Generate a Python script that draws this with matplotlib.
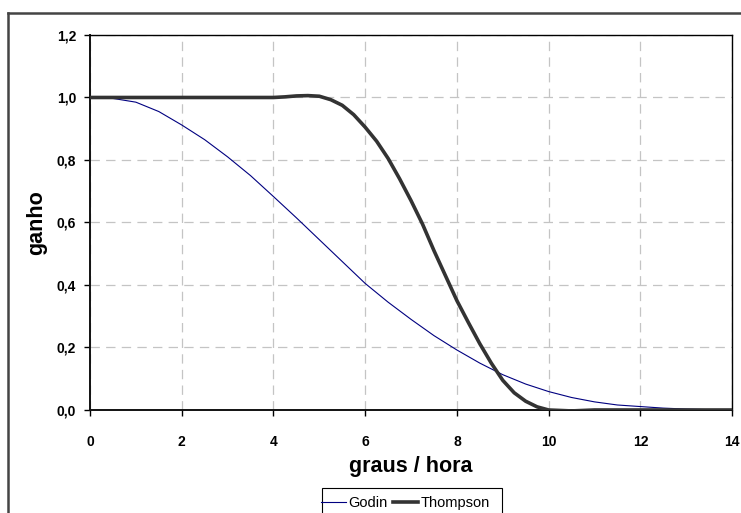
import numpy as np
import matplotlib
matplotlib.use("Agg")
import matplotlib.pyplot as plt
from matplotlib.lines import Line2D
from matplotlib.patches import Rectangle

plt.rcParams['font.family'] = ['Liberation Sans', 'DejaVu Sans']

# data (graus / hora vs ganho)
x_godin = [0, 0.5, 1, 1.5, 2, 2.5, 3, 3.5, 4, 4.5, 5, 5.5, 6, 6.5, 7, 7.5,
           8, 8.5, 9, 9.5, 10, 10.5, 11, 11.5, 12, 12.5, 13, 13.5, 14]
godin = [1.0, 0.997, 0.985, 0.955, 0.912, 0.865, 0.81, 0.75, 0.683, 0.615,
         0.545, 0.475, 0.405, 0.345, 0.29, 0.238, 0.192, 0.15, 0.113, 0.083,
         0.059, 0.04, 0.026, 0.016, 0.011, 0.006, 0.003, 0.001, 0.0]
x_thompson = [0, 1, 2, 3, 4, 4.25, 4.5, 4.75, 5, 5.25, 5.5, 5.75, 6, 6.25,
              6.5, 6.75, 7, 7.25, 7.5, 7.75, 8, 8.25, 8.5, 8.75, 9, 9.25,
              9.5, 9.75, 10, 10.5, 11, 12, 13, 14]
thompson = [1.0, 1.0, 1.0, 1.0, 1.0, 1.002, 1.005, 1.006, 1.004, 0.993,
            0.975, 0.945, 0.905, 0.86, 0.805, 0.74, 0.67, 0.595, 0.51, 0.43,
            0.35, 0.28, 0.212, 0.15, 0.095, 0.055, 0.028, 0.01, 0.0, -0.003,
            0.0, 0.0, 0.0, 0.0]
xticks = [0, 2, 4, 6, 8, 10, 12, 14]
yticks = [0.0, 0.2, 0.4, 0.6, 0.8, 1.0, 1.2]

fig = plt.figure(figsize=(7.41, 5.13), dpi=100)
ax = fig.add_axes([0.1215, 0.2008, 0.8664, 0.731])

ax.plot(x_godin, godin, color='#000080', lw=0.8, label='Godin', zorder=3)
ax.plot(x_thompson, thompson, color='#333333', lw=2.6, label='Thompson', zorder=4,
        solid_joinstyle='round')

ax.set_xlim(0, 14)
ax.set_ylim(0, 1.2)
ax.set_xticks(xticks)
ax.set_yticks(yticks)
ax.set_xticklabels([str(t) for t in xticks])
ax.set_yticklabels([('%.1f' % t).replace('.', ',') for t in yticks])
for lab in ax.get_xticklabels() + ax.get_yticklabels():
    lab.set_fontweight('bold')
ax.tick_params(axis='both', direction='out', length=4, width=1, labelsize=10, colors='black')
ax.tick_params(axis='x', pad=14)
ax.tick_params(axis='y', pad=6)

ax.grid(True, color='#c4c4c4', linestyle=(0, (7.5, 5)), lw=0.9)
ax.set_axisbelow(True)
for s in ['top', 'right']:
    ax.spines[s].set_linewidth(1)
    ax.spines[s].set_color('black')
for s in ['left', 'bottom']:
    ax.spines[s].set_linewidth(1.4)
    ax.spines[s].set_color('#111111')

ax.set_xlabel('graus / hora', fontsize=15.5, fontweight='bold', labelpad=5)
ax.set_ylabel('ganho', fontsize=15.5, fontweight='bold', labelpad=7)

# outer chart frame (cropped at right and bottom)
fig.add_artist(Line2D([8 / 741, 1], [1 - 13 / 513, 1 - 13 / 513], transform=fig.transFigure,
                      color='#444444', lw=1.8))
fig.add_artist(Line2D([8 / 741, 8 / 741], [0, 1 - 13 / 513], transform=fig.transFigure,
                      color='#444444', lw=1.8))

# legend box, cut off by the bottom edge like in the reference
fig.add_artist(Rectangle((322 / 741, -10 / 513), 180 / 741, (513 - 488 + 10) / 513,
                         transform=fig.transFigure, facecolor='white',
                         edgecolor='black', lw=0.8))
leg = fig.legend(loc='center left', bbox_to_anchor=(321 / 741, 1 - 503 / 513), ncol=2,
                 fontsize=10.5, frameon=False,
                 handlelength=1.7, handletextpad=0.2, columnspacing=0.35,
                 borderpad=0.0, borderaxespad=0)

fig.savefig('out.png', dpi=100)
